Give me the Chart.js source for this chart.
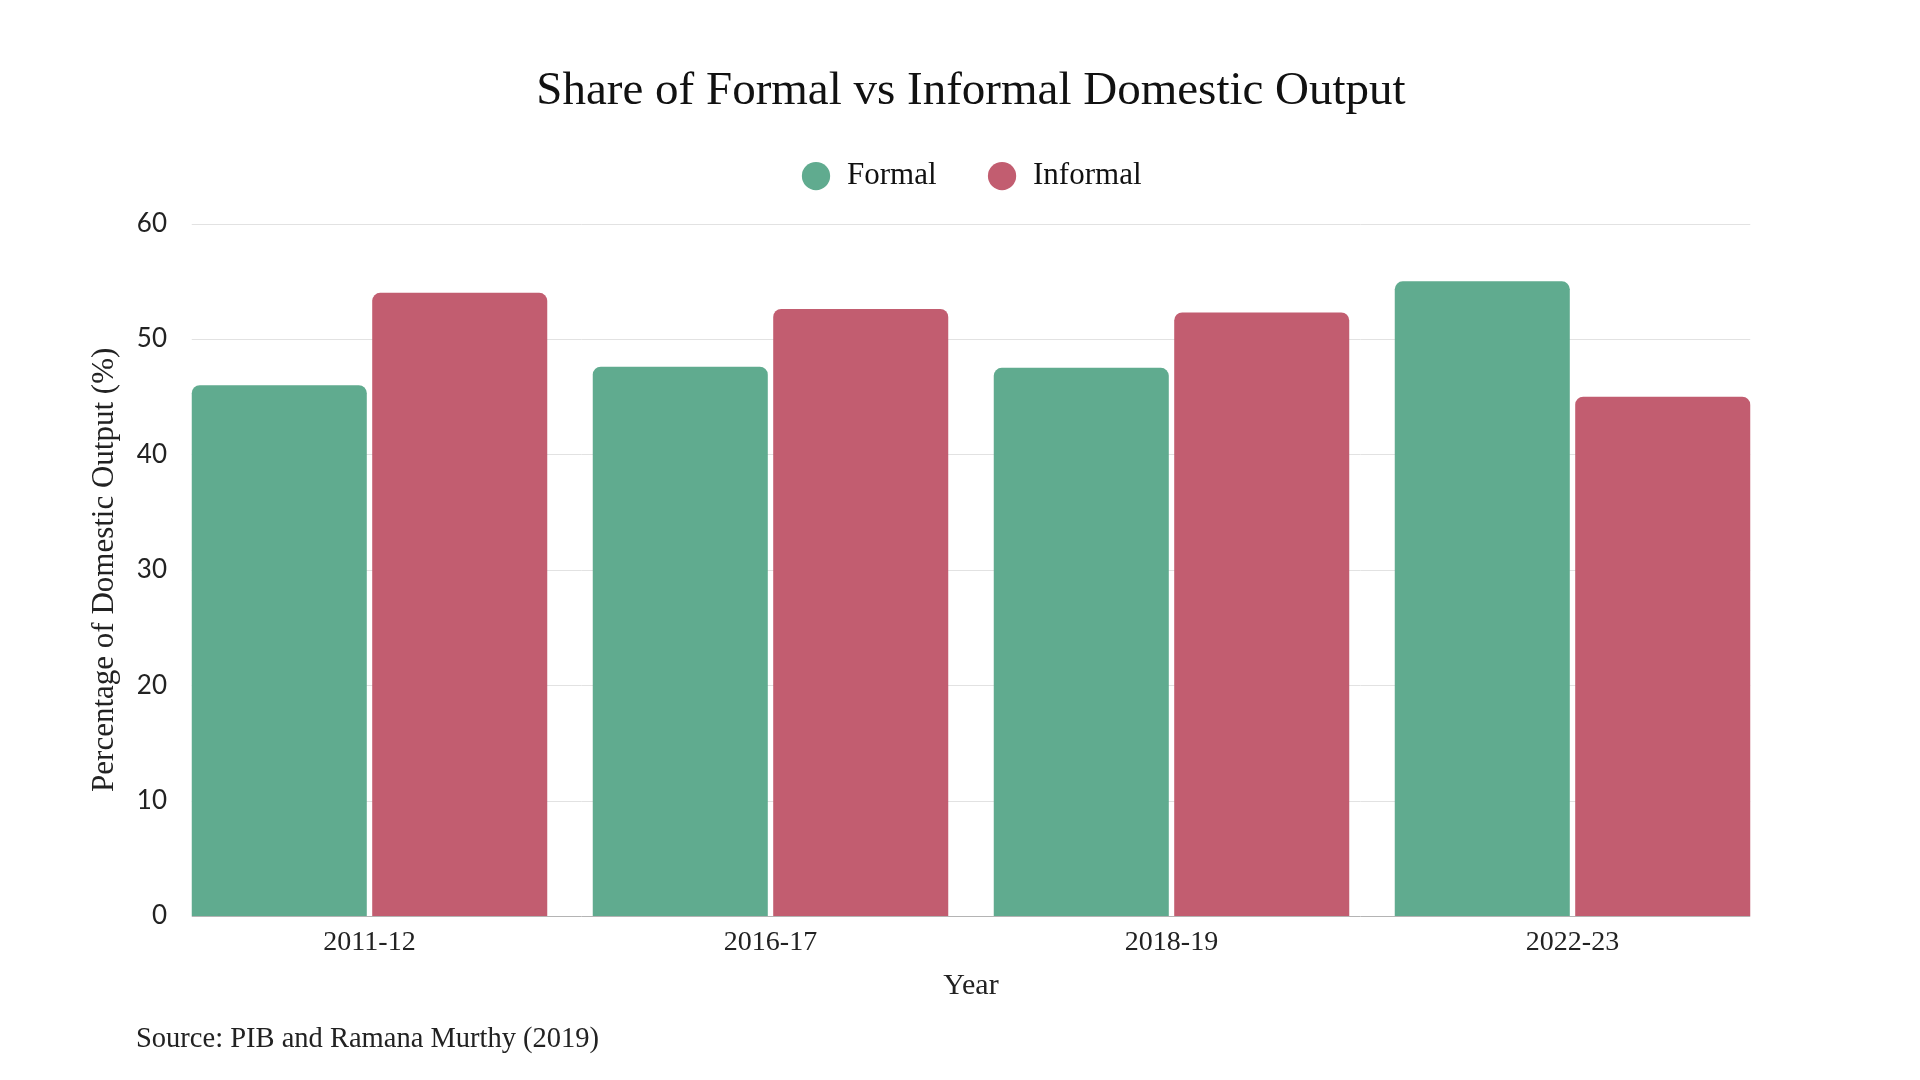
<!DOCTYPE html>
<html lang="en">
<head>
<meta charset="UTF-8">
<title>Share of Formal vs Informal Domestic Output</title>
<script src="https://cdn.jsdelivr.net/npm/chart.js@4.4.0/dist/chart.umd.min.js"></script>
<style>
  body { margin: 0; background: #fff; }
  .wrap { position: relative; width: 1920px; height: 1080px; }
  #source {
    position: absolute;
    left: 136px;
    top: 1022px;
    font: 28.5px "Liberation Serif", serif;
    color: #222;
  }
</style>
</head>
<body>
<div class="wrap">
  <canvas id="chart"></canvas>
  <div id="source">Source: PIB and Ramana Murthy (2019)</div>
</div>
<script>
'use strict';

// data
const years = ['2011-12', '2016-17', '2018-19', '2022-23'];
const formal = [46.0, 47.6, 47.5, 55.0];
const informal = [54.0, 52.6, 52.3, 45.0];

const GREEN = '#60ab8f';
const RED = '#c25d70';
const SERIF = '"Liberation Serif", serif';

// grid lines only span the bars, like in the original
const gridPlugin = {
  id: 'shortGrid',
  beforeDatasetsDraw(chart) {
    const { ctx, scales: { y } } = chart;
    const first = chart.getDatasetMeta(0).data[0];
    const last = chart.getDatasetMeta(1).data[years.length - 1];
    if (!first || !last) return;
    const x0 = first.x - first.width / 2;
    const x1 = last.x + last.width / 2;
    ctx.save();
    ctx.lineWidth = 1;
    y.ticks.forEach(t => {
      const py = Math.round(y.getPixelForValue(t.value)) + 0.5;
      ctx.strokeStyle = t.value === 0 ? '#b4b4b4' : '#e2e2e2';
      ctx.beginPath();
      ctx.moveTo(x0, py);
      ctx.lineTo(x1, py);
      ctx.stroke();
    });
    ctx.restore();
  }
};

// empty axis used only to reserve space
const spacer = size => ({
  display: true,
  ticks: { display: false },
  grid: { display: false, drawTicks: false },
  border: { display: false },
  afterFit(scale) {
    if (scale.isHorizontal()) scale.height = size;
    else scale.width = size;
  }
});

new Chart(document.getElementById('chart'), {
  type: 'bar',
  data: {
    labels: years,
    datasets: [
      { label: 'Formal', data: formal, backgroundColor: GREEN },
      { label: 'Informal', data: informal, backgroundColor: RED }
    ]
  },
  options: {
    responsive: true,
    maintainAspectRatio: false,
    animation: false,
    categoryPercentage: 0.9,
    barPercentage: 0.97,
    borderRadius: 8,
    layout: { padding: { left: 80, right: 58, top: 0, bottom: 76 } },
    plugins: {
      tooltip: { enabled: false },
      title: {
        display: true,
        text: 'Share of Formal vs Informal Domestic Output',
        color: '#111',
        font: { family: SERIF, size: 47, weight: 'normal', lineHeight: 0.8 },
        padding: { top: 73, bottom: 0 }
      },
      legend: {
        labels: {
          usePointStyle: true,
          pointStyle: 'circle',
          boxWidth: 31,
          boxHeight: 20,
          padding: 50,
          color: '#111',
          font: { family: SERIF, size: 31 }
        }
      }
    },
    scales: {
      x: {
        grid: { display: false, drawTicks: false },
        border: { display: false },
        ticks: { color: '#222', padding: 10, font: { family: SERIF, size: 28 } },
        title: {
          display: true,
          text: 'Year',
          color: '#222',
          font: { family: SERIF, size: 30 },
          padding: 0
        },
        afterFit(scale) { scale.height = 88; }
      },
      xTop: Object.assign({ type: 'linear', position: 'top' }, spacer(22)),
      y: {
        min: 0,
        max: 60,
        ticks: { stepSize: 10, color: '#222', padding: 2, font: { family: 'Lato', size: 26 } },
        grid: { display: false, drawTicks: false },
        border: { display: false },
        title: {
          display: true,
          text: 'Percentage of Domestic Output (%)',
          color: '#222',
          font: { family: SERIF, size: 31 },
          padding: { top: 6, bottom: 0 }
        },
        afterFit(scale) { scale.width = 89; }
      },
      // keeps title and legend centred over the plot
      yRight: Object.assign({ type: 'linear', position: 'right' }, spacer(89))
    }
  },
  plugins: [gridPlugin]
});
</script>
</body>
</html>
